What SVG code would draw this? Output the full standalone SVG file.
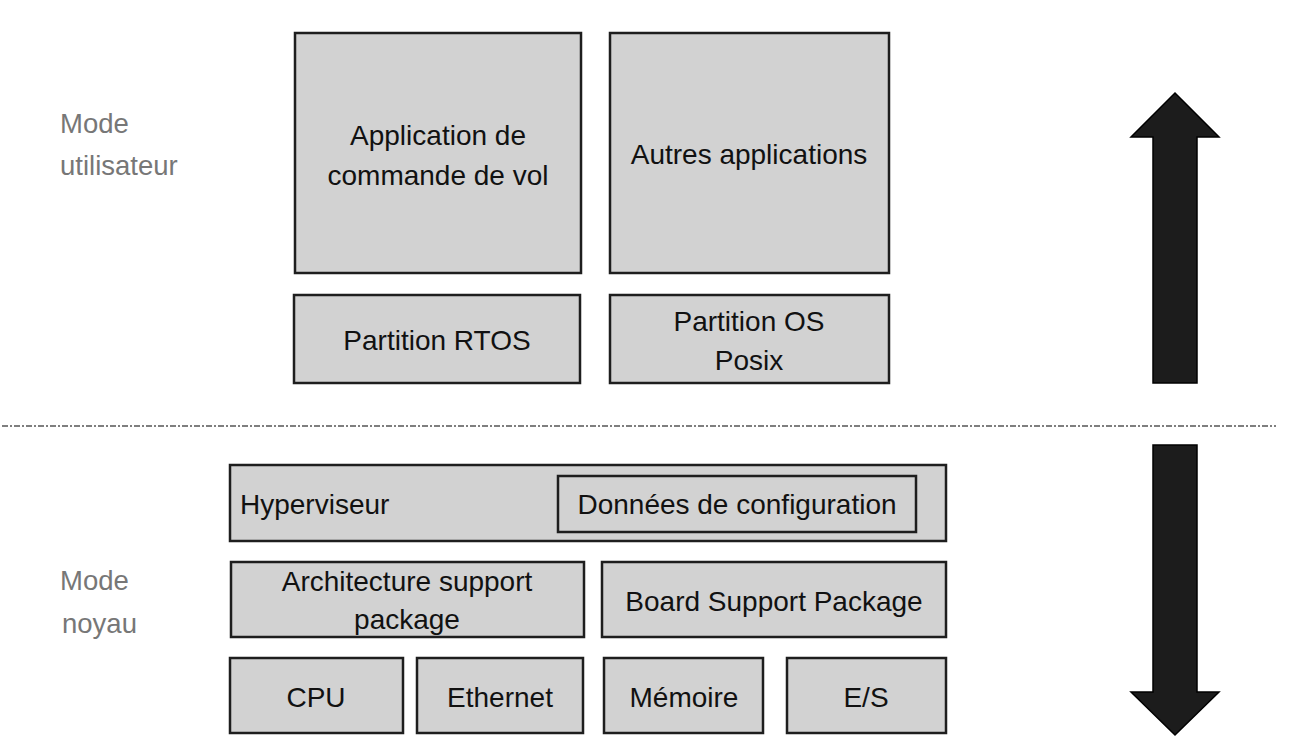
<svg xmlns="http://www.w3.org/2000/svg" width="1289" height="755" viewBox="0 0 1289 755">
<style>
.box{fill:#d2d2d2;stroke:#1e1e1e;stroke-width:2.5}
.t{font-family:"Liberation Sans",Arial,sans-serif;font-size:28px;fill:#111;text-anchor:middle}
.l{text-anchor:start}
.mode{font-family:"Liberation Sans",Arial,sans-serif;font-size:27.5px;fill:#777}
.arrow{fill:#1c1c1c;stroke:#000;stroke-width:1.5}
</style>
<rect width="1289" height="755" fill="#fff"/>
<g id="mode-utilisateur"><text class="mode" x="60" y="133">Mode</text><text class="mode" x="60" y="175">utilisateur</text></g>
<g id="mode-noyau"><text class="mode" x="60" y="590">Mode</text><text class="mode" x="62" y="633">noyau</text></g>
<g id="app-vol"><rect class="box" x="295" y="33" width="286" height="240"/><text class="t" x="438" y="145">Application de</text><text class="t" x="438" y="185">commande de vol</text></g>
<g id="autres-app"><rect class="box" x="610" y="33" width="279" height="240"/><text class="t" x="749" y="164">Autres applications</text></g>
<g id="partition-rtos"><rect class="box" x="294" y="295" width="286" height="88"/><text class="t" x="437" y="350">Partition RTOS</text></g>
<g id="partition-posix"><rect class="box" x="610" y="295" width="279" height="88"/><text class="t" x="749" y="331">Partition OS</text><text class="t" x="749" y="370">Posix</text></g>
<g id="separateur"><line x1="2" y1="426" x2="1276" y2="426" stroke="#555" stroke-width="1.5" stroke-dasharray="6,2,2,2"/></g>
<g id="hyperviseur"><rect class="box" x="230" y="465" width="716" height="76"/><text class="t l" x="240" y="514">Hyperviseur</text></g>
<g id="donnees-config"><rect class="box" x="558" y="476" width="358" height="56"/><text class="t" x="737" y="514">Données de configuration</text></g>
<g id="asp"><rect class="box" x="231" y="562" width="353" height="75"/><text class="t" x="407" y="591">Architecture support</text><text class="t" x="407" y="629">package</text></g>
<g id="bsp"><rect class="box" x="602" y="562" width="344" height="75"/><text class="t" x="774" y="611">Board Support Package</text></g>
<g id="cpu"><rect class="box" x="230" y="658" width="173" height="75"/><text class="t" x="316" y="707">CPU</text></g>
<g id="ethernet"><rect class="box" x="417" y="658" width="166" height="75"/><text class="t" x="500" y="707">Ethernet</text></g>
<g id="memoire"><rect class="box" x="604" y="658" width="159" height="75"/><text class="t" x="684" y="707">Mémoire</text></g>
<g id="es"><rect class="box" x="787" y="658" width="159" height="75"/><text class="t" x="866" y="707">E/S</text></g>
<g id="connectors">
<polygon class="arrow" points="1175,93 1219,137 1197,137 1197,383 1153,383 1153,137 1131,137"/>
<polygon class="arrow" points="1153,445 1197,445 1197,692 1219,692 1175,735 1131,692 1153,692"/>
</g>
</svg>
